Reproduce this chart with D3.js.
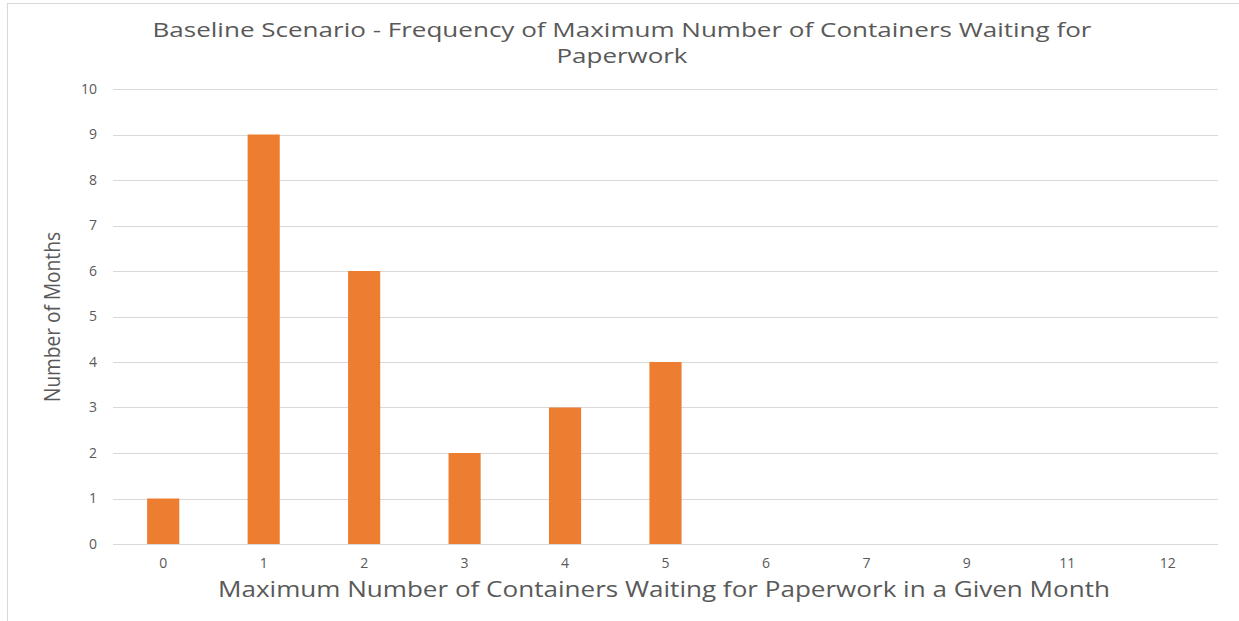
<html lang="en">
<head>
<title>Baseline Scenario</title>
<style>
    body { margin: 0; background: #fff; }
    svg { display: block; }
    text { font-family: "Open Sans", "Noto Sans", sans-serif; fill: #595959; }
</style>
</head>
<body>
<svg id="chart"></svg>
<script src="https://d3js.org/d3.v7.min.js"></script>
<script>
    // data
    var categories = ["0", "1", "2", "3", "4", "5", "6", "7", "9", "11", "12"];
    var months = [1, 9, 6, 2, 3, 4, 0, 0, 0, 0, 0];
    var yTicks = [0, 1, 2, 3, 4, 5, 6, 7, 8, 9, 10];

    var width = 1239, height = 621;
    var plotLeft = 113, plotRight = 1218, plotTop = 89, plotBottom = 544;

    var svg = d3.select("#chart").attr("width", width).attr("height", height);

    // chart frame (only top/left edges show in the picture)
    svg.append("rect")
        .attr("x", 7.5).attr("y", 3.5)
        .attr("width", 1260).attr("height", 640)
        .attr("fill", "none").attr("stroke", "#d9d9d9");

    var x = d3.scaleBand().domain(categories).range([plotLeft, plotRight]).paddingInner(0.68).paddingOuter(0.34);
    var y = d3.scaleLinear().domain([0, 10]).range([plotBottom, plotTop]);

    // gridlines
    svg.append("g").selectAll("line")
        .data(yTicks)
        .enter().append("line")
        .attr("x1", plotLeft).attr("x2", plotRight)
        .attr("y1", d => Math.round(y(d)) + 0.5)
        .attr("y2", d => Math.round(y(d)) + 0.5)
        .attr("stroke", "#d9d9d9").attr("stroke-width", 1);

    // y tick labels
    svg.append("g").selectAll("text")
        .data(yTicks)
        .enter().append("text")
        .attr("x", 97).attr("y", d => y(d))
        .attr("dy", "0.35em")
        .attr("text-anchor", "end")
        .attr("font-size", 14)
        .text(d => d);

    // bars
    svg.append("g").selectAll("rect")
        .data(months)
        .enter().append("rect")
        .attr("x", (d, i) => x(categories[i]))
        .attr("width", x.bandwidth())
        .attr("y", d => y(d))
        .attr("height", d => y(0) - y(d))
        .attr("fill", "#ed7d31");

    // x tick labels
    svg.append("g").selectAll("text")
        .data(categories)
        .enter().append("text")
        .attr("x", d => x(d) + x.bandwidth() / 2)
        .attr("y", 568)
        .attr("text-anchor", "middle")
        .attr("font-size", 14)
        .text(d => d);

    // title
    svg.append("text")
        .attr("x", 622).attr("y", 37)
        .attr("text-anchor", "middle")
        .attr("font-size", 20)
        .attr("textLength", 939).attr("lengthAdjust", "spacingAndGlyphs")
        .text("Baseline Scenario - Frequency of Maximum Number of Containers Waiting for");
    svg.append("text")
        .attr("x", 622).attr("y", 63)
        .attr("text-anchor", "middle")
        .attr("font-size", 20)
        .attr("textLength", 131).attr("lengthAdjust", "spacingAndGlyphs")
        .text("Paperwork");

    // axis titles
    svg.append("text")
        .attr("x", 664).attr("y", 597)
        .attr("text-anchor", "middle")
        .attr("font-size", 21)
        .attr("textLength", 892).attr("lengthAdjust", "spacingAndGlyphs")
        .text("Maximum Number of Containers Waiting for Paperwork in a Given Month");

    svg.append("text")
        .attr("transform", "translate(60,317) rotate(-90)")
        .attr("text-anchor", "middle")
        .attr("font-size", 22)
        .attr("textLength", 170).attr("lengthAdjust", "spacingAndGlyphs")
        .text("Number of Months");
</script>
</body>
</html>
